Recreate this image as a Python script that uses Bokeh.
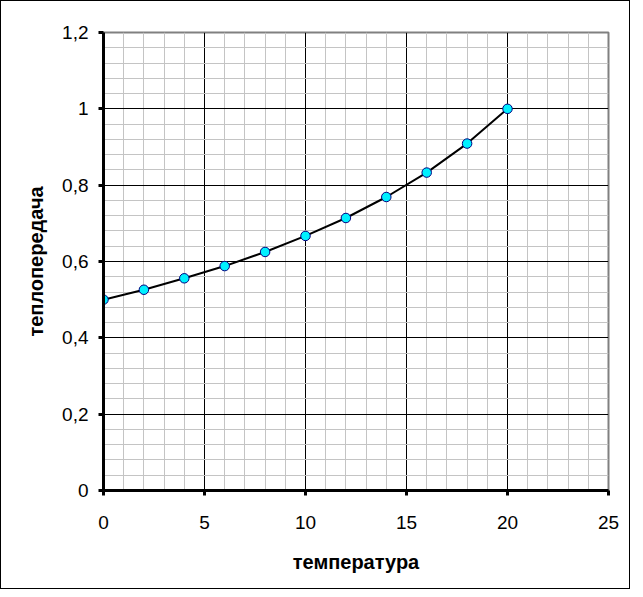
from bokeh.plotting import figure
from bokeh.models import FixedTicker, Range1d
from bokeh.embed import file_html
from bokeh.resources import INLINE

# data
temperature = [0, 2, 4, 6, 8, 10, 12, 14, 16, 18, 20]
heat_transfer = [0.500, 0.526, 0.556, 0.588, 0.625, 0.667, 0.714, 0.769, 0.833, 0.909, 1.000]

x_ticks = [0, 5, 10, 15, 20, 25]
x_minor = list(range(0, 26))
y_ticks = [0, 0.2, 0.4, 0.6, 0.8, 1.0, 1.2]
y_tick_labels = ["0", "0,2", "0,4", "0,6", "0,8", "1", "1,2"]
y_minor = [round(i * 0.04, 2) for i in range(0, 31)]

x_title = "температура"
y_title = "теплопередача"

FONT = "Liberation Sans"

p = figure(width=630, height=589, output_backend="svg", toolbar_location=None,
           x_range=Range1d(0, 25), y_range=Range1d(0, 1.2),
           min_border_left=102, min_border_right=23, min_border_top=31, min_border_bottom=100)

p.styles = {"border": "1.5px solid black", "box-sizing": "border-box"}
p.background_fill_color = "white"
p.border_fill_color = "white"
p.outline_line_color = "#808080"
p.outline_line_width = 2

p.xaxis.ticker = FixedTicker(ticks=x_ticks, minor_ticks=x_minor)
p.yaxis.ticker = FixedTicker(ticks=y_ticks, minor_ticks=y_minor)
p.yaxis.major_label_overrides = {t: l for t, l in zip(y_ticks, y_tick_labels)}

for ax in (p.xaxis, p.yaxis):
    ax.axis_line_color = "black"
    ax.axis_line_width = 3
    ax.major_tick_line_color = "black"
    ax.major_tick_line_width = 3
    ax.major_tick_out = 5
    ax.major_tick_in = 0
    ax.minor_tick_out = 0
    ax.minor_tick_in = 0
    ax.major_label_text_font = FONT
    ax.major_label_text_font_size = "19px"
    ax.major_label_text_color = "black"
    ax.axis_label_text_font = FONT
    ax.axis_label_text_font_size = "20px"
    ax.axis_label_text_font_style = "bold"
    ax.axis_label_text_color = "black"

p.xaxis.axis_label = x_title
p.yaxis.axis_label = y_title
p.xaxis.major_label_standoff = 20
p.xaxis.axis_label_standoff = 19
p.yaxis.major_label_standoff = 10
p.yaxis.axis_label_standoff = 12

for g in (p.xgrid, p.ygrid):
    g.grid_line_color = "black"
    g.grid_line_width = 1
    g.minor_grid_line_color = "#c4c4c4"
    g.minor_grid_line_width = 1

p.line(temperature, heat_transfer, line_color="black", line_width=2)
p.scatter(temperature, heat_transfer, size=9.5, fill_color="#00f0ff",
          line_color="#000080", line_width=1)

open("out.html", "w").write(file_html(p, INLINE))
